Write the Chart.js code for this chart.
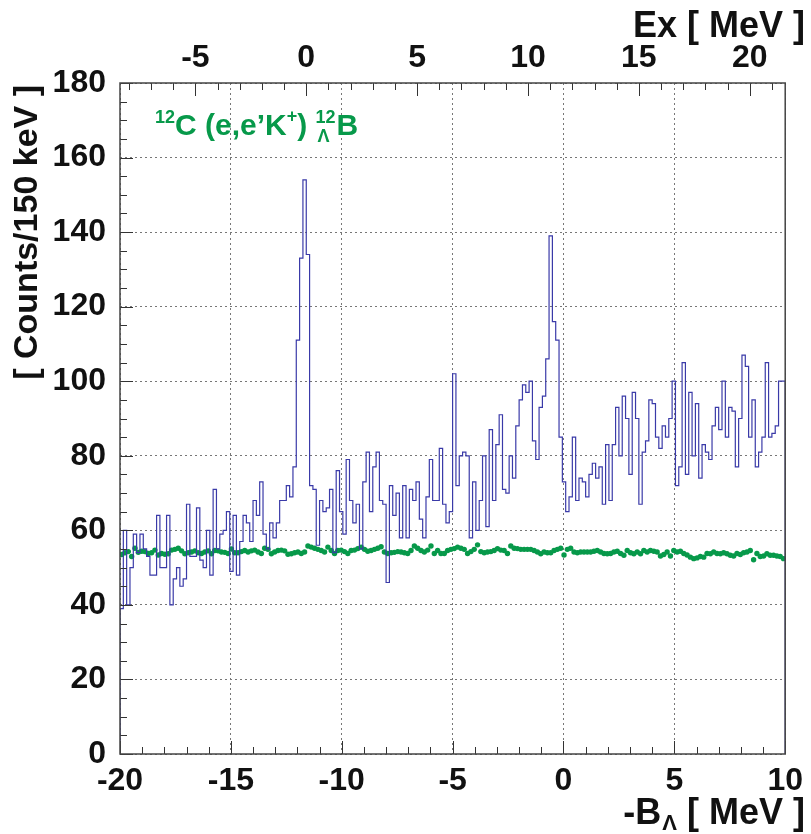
<!DOCTYPE html>
<html>
<head>
<meta charset="utf-8">
<script src="https://cdn.jsdelivr.net/npm/chart.js@4/dist/chart.umd.min.js"></script>
<style>
  html, body { margin: 0; padding: 0; background: #fff; }
  #wrap { width: 811px; height: 834px; }
</style>
</head>
<body>
<div id="wrap"><canvas id="chart" width="811" height="834"></canvas></div>
<script>
// binning of the -B_Lambda axis (MeV)
const binLow = -20;
const binHigh = 10;
const binWidth = 0.15;
// Ex = -B_Lambda + exOffset
const exOffset = 11.6;
const exTicks = [-5, 0, 5, 10, 15, 20];

// counts per 150 keV bin (200 bins)
const counts = [
  39, 60, 40, 50, 59, 54, 59, 55, 53, 48,
  48, 64, 50, 50, 64, 40, 47, 50, 45, 47,
  67, 53, 53, 66, 52, 50, 60, 48, 71, 55,
  59, 60, 65, 49, 64, 48, 57, 64, 62, 57,
  68, 64, 73, 59, 55, 62, 58, 62, 68, 68,
  72, 69, 77, 111, 133, 154, 134, 72, 71, 56,
  68, 65, 66, 71, 54, 76, 65, 59, 79, 68,
  62, 67, 55, 73, 81, 65, 77, 81, 68, 67,
  46, 72, 64, 70, 58, 72, 58, 71, 68, 73,
  63, 58, 69, 79, 68, 68, 82, 67, 62, 65,
  102, 72, 80, 81, 80, 58, 73, 60, 68, 80,
  61, 87, 68, 83, 91, 71, 70, 80, 74, 88,
  95, 99, 97, 100, 84, 79, 93, 96, 106, 139,
  116, 111, 85, 73, 65, 69, 85, 68, 74, 73,
  69, 75, 78, 74, 77, 67, 83, 68, 83, 93,
  80, 96, 90, 75, 97, 90, 67, 81, 84, 95,
  94, 85, 82, 88, 85, 90, 100, 72, 77, 105,
  75, 97, 80, 94, 74, 83, 81, 79, 88, 93,
  87, 100, 85, 93, 92, 77, 90, 107, 104, 85,
  95, 77, 81, 85, 105, 85, 86, 88, 100, 100
];

// accidental background estimate per bin (green points)
const background = [
  53.5, 54.0, 54.3, 53.0, 55.2, 54.1, 54.4, 54.3, 53.8, 54.0,
  54.7, 53.4, 53.8, 53.6, 53.7, 54.7, 54.9, 55.2, 54.5, 53.7,
  54.0, 54.2, 54.5, 54.0, 53.8, 54.2, 54.5, 53.7, 54.6, 54.5,
  54.2, 54.1, 53.8, 55.0, 54.0, 54.0, 54.3, 54.6, 54.2, 54.5,
  54.7, 54.2, 53.8, 55.2, 54.9, 53.7, 54.2, 54.6, 54.7, 54.5,
  53.6, 53.7, 54.0, 54.2, 53.8, 54.2, 55.8, 55.5, 55.2, 54.9,
  54.6, 54.2, 55.5, 54.6, 53.8, 54.6, 54.7, 54.3, 53.8, 54.6,
  54.7, 55.1, 55.5, 54.9, 54.4, 54.6, 54.9, 55.2, 55.6, 54.2,
  53.8, 54.0, 54.1, 54.3, 54.2, 54.0, 53.8, 54.6, 55.8, 55.2,
  54.6, 54.2, 54.7, 55.8, 53.8, 54.6, 53.8, 53.8, 54.6, 54.9,
  55.1, 55.5, 55.2, 54.9, 53.8, 54.3, 54.9, 56.1, 54.3, 54.0,
  54.2, 54.3, 54.6, 55.1, 54.7, 54.6, 53.8, 55.8, 55.2, 55.1,
  54.9, 54.9, 54.9, 54.9, 54.6, 54.2, 53.7, 54.2, 54.0, 54.0,
  54.6, 54.9, 55.2, 53.4, 54.9, 55.2, 54.2, 54.0, 54.2, 54.2,
  54.2, 54.2, 54.4, 54.6, 54.2, 53.8, 53.7, 53.8, 54.2, 54.4,
  53.8, 53.3, 54.6, 54.0, 53.7, 54.2, 53.7, 54.6, 54.2, 54.6,
  54.4, 54.2, 53.1, 53.5, 54.2, 53.1, 54.6, 54.2, 54.4, 53.8,
  53.4, 52.8, 52.4, 52.6, 53.0, 52.8, 53.8, 53.7, 54.2, 53.8,
  53.7, 54.0, 53.7, 53.3, 53.1, 53.8, 53.5, 54.0, 54.2, 54.6,
  52.1, 53.8, 53.0, 53.1, 53.7, 53.3, 53.3, 53.1, 53.0, 52.4
];

const yMin = 0;
const yMax = 180;
const yStep = 20;
const xStep = 5;

const fontFam = "'Liberation Sans', Arial, sans-serif";
const green = '#07994a';
const blue = '#3a3aa8';

// histogram outline: start at 0, step over each bin, fall back to 0
const histPoints = [{ x: binLow, y: 0 }];
counts.forEach((c, i) => histPoints.push({ x: binLow + i * binWidth, y: c }));
histPoints.push({ x: binHigh, y: counts[counts.length - 1] });
histPoints.push({ x: binHigh, y: 0 });

const bgPoints = background.map((b, i) => ({ x: binLow + (i + 0.5) * binWidth, y: b }));

// inner tick marks, frame and text labels like the ROOT canvas
const decor = {
  id: 'decor',
  afterDatasetsDraw(chart) {
    const ctx = chart.ctx;
    const a = chart.chartArea;
    const xs = chart.scales.x, xt = chart.scales.xTop, ys = chart.scales.y;
    ctx.save();
    ctx.strokeStyle = '#333';
    ctx.lineWidth = 1;
    ctx.beginPath();
    for (let v = binLow; v <= binHigh; v += 1) {
      const px = Math.round(xs.getPixelForValue(v)) + 0.5;
      const len = v % 5 === 0 ? 13 : 7;
      ctx.moveTo(px, a.bottom); ctx.lineTo(px, a.bottom - len);
    }
    for (let v = Math.ceil(xt.min); v <= xt.max; v += 1) {
      const px = Math.round(xt.getPixelForValue(v)) + 0.5;
      const len = v % 5 === 0 ? 13 : 7;
      ctx.moveTo(px, a.top); ctx.lineTo(px, a.top + len);
    }
    for (let v = yMin; v <= yMax; v += 5) {
      const py = Math.round(ys.getPixelForValue(v)) + 0.5;
      const len = v % 20 === 0 ? 13 : 7;
      ctx.moveTo(a.left, py); ctx.lineTo(a.left + len, py);
    }
    ctx.stroke();
    ctx.strokeStyle = '#444';
    ctx.lineWidth = 1.5;
    ctx.strokeRect(a.left, a.top, a.right - a.left, a.bottom - a.top);

    // axis titles
    ctx.fillStyle = '#111';
    ctx.textBaseline = 'alphabetic';
    ctx.font = 'bold 36px ' + fontFam;
    ctx.textAlign = 'right';
    ctx.fillText('Ex [ MeV ]', 805, 37);

    let x = 805;
    const tail = ' [ MeV ]';
    ctx.fillText(tail, x, 824);
    x -= ctx.measureText(tail).width;
    ctx.font = 'bold 22px ' + fontFam;
    ctx.fillText('\u039B', x, 830);
    x -= ctx.measureText('\u039B').width + 1;
    ctx.font = 'bold 36px ' + fontFam;
    ctx.fillText('-B', x, 824);

    ctx.save();
    ctx.translate(37, 85);
    ctx.rotate(-Math.PI / 2);
    ctx.textAlign = 'right';
    ctx.font = 'bold 34px ' + fontFam;
    ctx.fillText('[ Counts/150 keV ]', 0, 0);
    ctx.restore();

    // reaction label
    ctx.fillStyle = green;
    ctx.textAlign = 'left';
    const big = 'bold 30px ' + fontFam, small = 'bold 18px ' + fontFam;
    let lx = 155;
    const base = 135;
    const put = (t, f, dy) => { ctx.font = f; ctx.fillText(t, lx, base + dy); lx += ctx.measureText(t).width; };
    put('12', small, -12);
    put('C (e,e\u2019K', big, 0);
    put('+', small, -13);
    put(') ', big, 0);
    ctx.font = small;
    const supX = lx;
    ctx.fillText('12', lx, base - 12);
    const w12 = ctx.measureText('12').width;
    ctx.fillText('\u039B', supX + 2, base + 7);
    lx = supX + w12 + 1;
    put('B', big, 0);
    ctx.restore();
  }
};

const ctx = document.getElementById('chart').getContext('2d');
const myChart = new Chart(ctx, {
  type: 'scatter',
  data: {
    datasets: [{
      label: 'counts',
      data: histPoints,
      showLine: true,
      stepped: 'before',
      borderColor: blue,
      borderWidth: 1.2,
      pointRadius: 0,
      fill: false
    }, {
      label: 'background',
      data: bgPoints,
      showLine: false,
      pointRadius: 2.7,
      pointBorderWidth: 0,
      backgroundColor: green,
      borderColor: green
    }]
  },
  plugins: [decor],
  options: {
    responsive: false,
    animation: false,
    layout: { padding: { left: 0, right: 21, top: 0, bottom: 0 } },
    plugins: { legend: { display: false }, tooltip: { enabled: false } },
    scales: {
      x: {
        type: 'linear', position: 'bottom', min: binLow, max: binHigh,
        afterFit: s => { s.height = 80; },
        ticks: { stepSize: xStep, padding: 8, color: '#111', font: { family: fontFam, size: 32, weight: 'bold' } },
        grid: { color: '#777', lineWidth: 1, drawTicks: false, tickLength: 0 },
        border: { display: false, dash: [2, 3] }
      },
      xTop: {
        type: 'linear', position: 'top', min: binLow + exOffset, max: binHigh + exOffset,
        afterFit: s => { s.height = 83; },
        afterBuildTicks: s => { s.ticks = exTicks.map(v => ({ value: v })); },
        ticks: { padding: 6, color: '#111', font: { family: fontFam, size: 32, weight: 'bold' } },
        grid: { display: false, drawTicks: false, tickLength: 0 },
        border: { display: false }
      },
      y: {
        type: 'linear', min: yMin, max: yMax,
        afterFit: s => { s.width = 120; },
        ticks: { stepSize: yStep, padding: 14, color: '#111', font: { family: fontFam, size: 32, weight: 'bold' } },
        grid: { color: '#777', lineWidth: 1, drawTicks: false, tickLength: 0 },
        border: { display: false, dash: [2, 3] }
      }
    }
  }
});
</script>
</body>
</html>
